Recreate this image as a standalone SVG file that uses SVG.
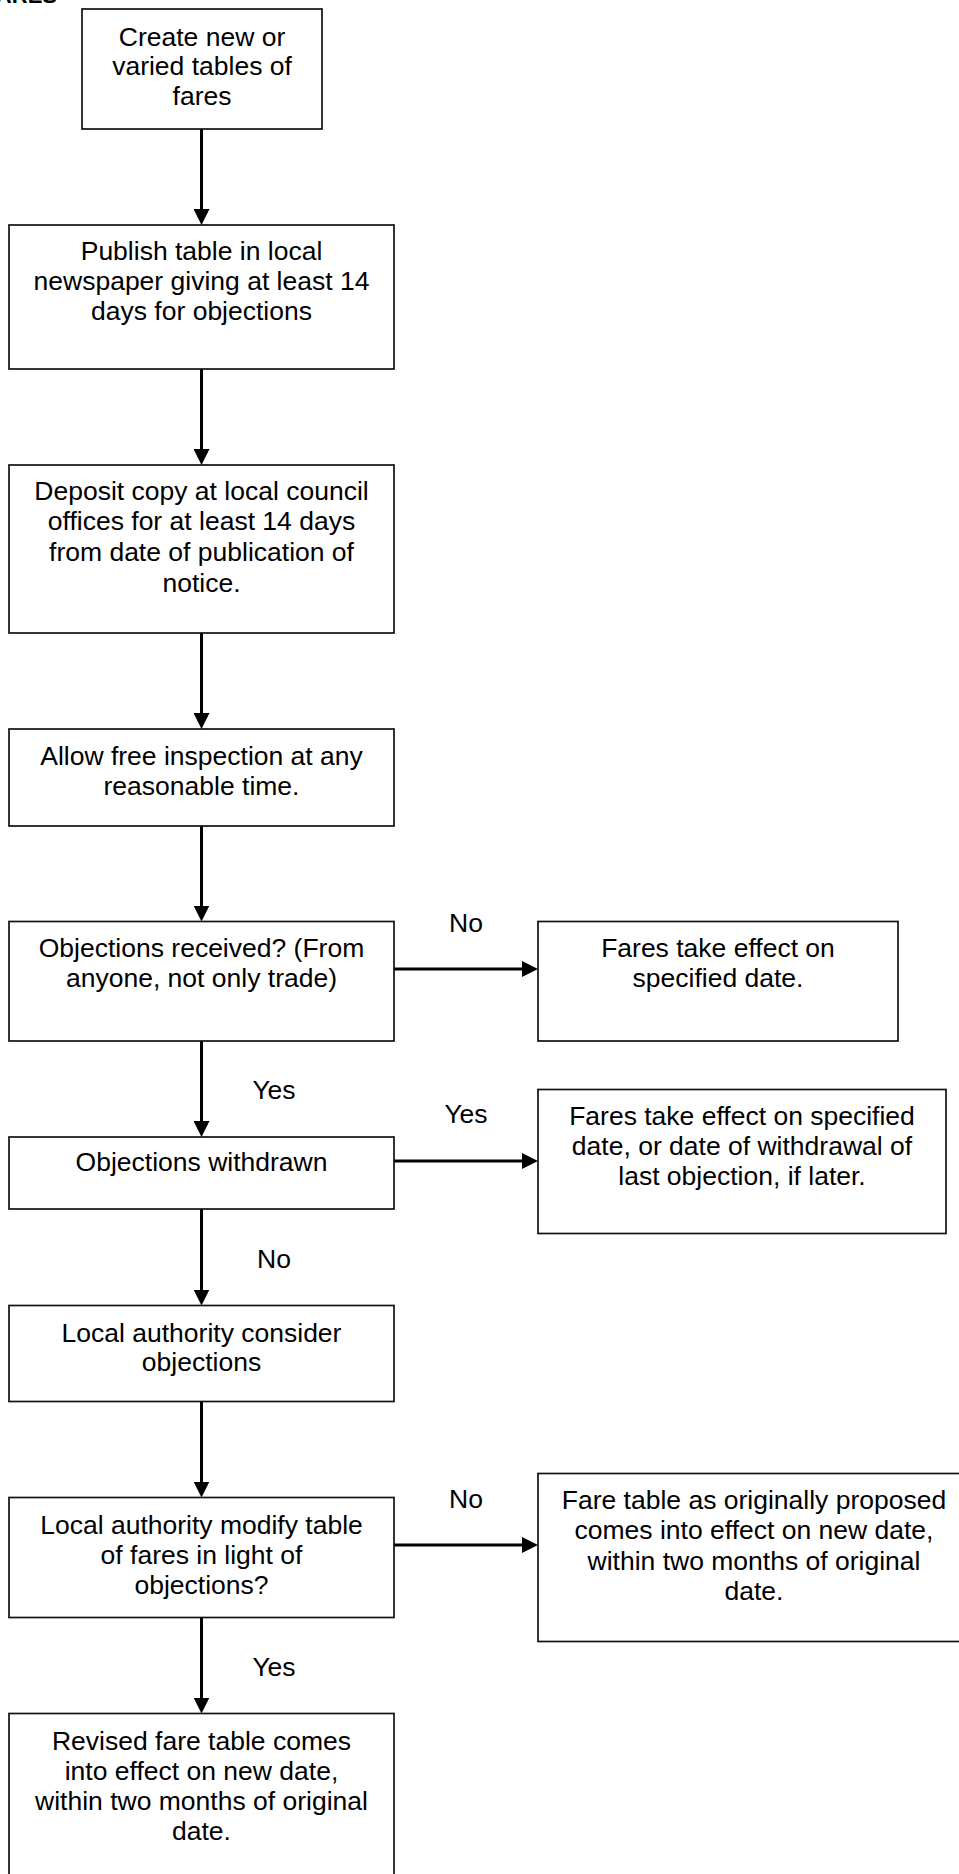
<svg xmlns="http://www.w3.org/2000/svg" width="959" height="1874" viewBox="0 0 959 1874">
<style>
.box{fill:#fff;stroke:#111;stroke-width:1.7}
.t{font-family:"Liberation Sans",Arial,sans-serif;font-size:26.5px;fill:#000;text-anchor:middle}
.c{stroke:#000;stroke-width:3;fill:none;marker-end:url(#ah)}
</style>
<defs>
<marker id="ah" markerUnits="userSpaceOnUse" markerWidth="16" markerHeight="16" viewBox="0 0 16 16" refX="6" refY="8" orient="auto">
<path d="M0,0 L16,8 L0,16 z" fill="#000"/>
</marker>
</defs>
<rect width="959" height="1874" fill="#fff"/>
<text x="57" y="2.5" style="font-family:'Liberation Sans',Arial,sans-serif;font-size:22px;font-weight:bold;text-anchor:end">FARES</text>
<g id="connectors">
<line class="c" x1="201.5" y1="129" x2="201.5" y2="215"/>
<line class="c" x1="201.5" y1="369" x2="201.5" y2="455"/>
<line class="c" x1="201.5" y1="633" x2="201.5" y2="719"/>
<line class="c" x1="201.5" y1="826" x2="201.5" y2="911.5"/>
<line class="c" x1="201.5" y1="1041" x2="201.5" y2="1127"/>
<line class="c" x1="201.5" y1="1209" x2="201.5" y2="1295.5"/>
<line class="c" x1="201.5" y1="1401.5" x2="201.5" y2="1487.5"/>
<line class="c" x1="201.5" y1="1617.5" x2="201.5" y2="1703.5"/>
<line class="c" x1="394" y1="969" x2="528" y2="969"/>
<line class="c" x1="394" y1="1161" x2="528" y2="1161"/>
<line class="c" x1="394" y1="1545" x2="528" y2="1545"/>
<text class="t" x="466" y="932">No</text>
<text class="t" x="274" y="1099">Yes</text>
<text class="t" x="466" y="1123">Yes</text>
<text class="t" x="274" y="1268">No</text>
<text class="t" x="466" y="1508">No</text>
<text class="t" x="274" y="1676">Yes</text>
</g>
<g id="n1"><rect class="box" x="82" y="9" width="240" height="120"/>
<text class="t" x="202" y="45.5">Create new or</text><text class="t" x="202" y="75">varied tables of</text><text class="t" x="202" y="104.5">fares</text></g>
<g id="n2"><rect class="box" x="9" y="225" width="385" height="144"/>
<text class="t" x="201.5" y="259.5">Publish table in local</text><text class="t" x="201.5" y="290">newspaper giving at least 14</text><text class="t" x="201.5" y="320">days for objections</text></g>
<g id="n3"><rect class="box" x="9" y="465" width="385" height="168"/>
<text class="t" x="201.5" y="499.5">Deposit copy at local council</text><text class="t" x="201.5" y="530">offices for at least 14 days</text><text class="t" x="201.5" y="561">from date of publication of</text><text class="t" x="201.5" y="591.5">notice.</text></g>
<g id="n4"><rect class="box" x="9" y="729" width="385" height="97"/>
<text class="t" x="201.5" y="765">Allow free inspection at any</text><text class="t" x="201.5" y="795">reasonable time.</text></g>
<g id="n5"><rect class="box" x="9" y="921.5" width="385" height="119.5"/>
<text class="t" x="201.5" y="956.5">Objections received? (From</text><text class="t" x="201.5" y="986.5">anyone, not only trade)</text></g>
<g id="n6"><rect class="box" x="538" y="921.5" width="360" height="119.5"/>
<text class="t" x="718" y="956.5">Fares take effect on</text><text class="t" x="718" y="986.5">specified date.</text></g>
<g id="n7"><rect class="box" x="9" y="1137" width="385" height="72"/>
<text class="t" x="201.5" y="1171">Objections withdrawn</text></g>
<g id="n8"><rect class="box" x="538" y="1089.5" width="408" height="144"/>
<text class="t" x="742" y="1125">Fares take effect on specified</text><text class="t" x="742" y="1155">date, or date of withdrawal of</text><text class="t" x="742" y="1185">last objection, if later.</text></g>
<g id="n9"><rect class="box" x="9" y="1305.5" width="385" height="96"/>
<text class="t" x="201.5" y="1341.5">Local authority consider</text><text class="t" x="201.5" y="1371">objections</text></g>
<g id="n10"><rect class="box" x="9" y="1497.5" width="385" height="120"/>
<text class="t" x="201.5" y="1533.5">Local authority modify table</text><text class="t" x="201.5" y="1564">of fares in light of</text><text class="t" x="201.5" y="1593.5">objections?</text></g>
<g id="n11"><rect class="box" x="538" y="1473.5" width="432" height="168"/>
<text class="t" x="754" y="1509">Fare table as originally proposed</text><text class="t" x="754" y="1539">comes into effect on new date,</text><text class="t" x="754" y="1569.5">within two months of original</text><text class="t" x="754" y="1599.5">date.</text></g>
<g id="n12"><rect class="box" x="9" y="1713.5" width="385" height="172"/>
<text class="t" x="201.5" y="1750">Revised fare table comes</text><text class="t" x="201.5" y="1779.5">into effect on new date,</text><text class="t" x="201.5" y="1810">within two months of original</text><text class="t" x="201.5" y="1840">date.</text></g>
</svg>
